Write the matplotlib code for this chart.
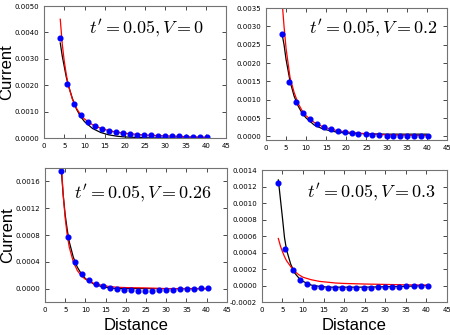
import matplotlib
matplotlib.use("Agg")
import matplotlib.pyplot as plt

# distances of the measured points
distance = [4.0, 5.7, 7.5, 9.2, 10.9, 12.7, 14.4, 16.1, 17.8, 19.6, 21.3,
            23.0, 24.8, 26.5, 28.2, 30.0, 31.7, 33.4, 35.1, 36.9, 38.6, 40.3]

# measured current, one list per panel
current_v0 = [0.0038, 0.00204, 0.00129, 0.00086, 0.0006, 0.00044, 0.00034, 0.00027,
              0.00022, 0.00018, 0.00015, 0.00013, 0.00011, 0.0001, 0.00009, 0.00008,
              0.00007, 0.00006, 0.00005, 0.00004, 0.00004, 0.00002]
current_v02 = [0.00279, 0.00147, 0.00093, 0.00063, 0.00046, 0.00035, 0.00026, 0.0002,
               0.000155, 0.00012, 0.000093, 0.00007, 0.000064, 0.00005, 0.00003, 0.00002,
               0.000015, 0.00001, 0.00001, 0.000005, 0.000005, 0.0]
current_v026 = [0.00176, 0.000765, 0.0004, 0.000225, 0.000125, 0.000075, 0.000035, 0.00001,
                -0.00001, -0.00002, -0.000025, -0.00003, -0.00003, -0.00003, -0.000025, -0.00002,
                -0.000015, -0.00001, -0.000005, 0.0, 0.000005, 0.00001]
current_v03 = [0.001245, 0.000446, 0.00019, 0.000072, 0.000016, -0.000016, -0.000024, -0.000028,
               -0.000032, -0.000032, -0.000032, -0.000032, -0.000028, -0.000028, -0.000024, -0.00002,
               -0.00002, -0.000016, -0.000012, -0.000008, -0.000004, 0.0]

# fitted curves
fit_x = [4, 4.5, 5, 5.5, 6, 7, 8, 9, 10, 12, 14, 16, 18, 20, 25, 30, 35, 40]
red_v0 = [0.0045, 0.00355, 0.0029, 0.0024, 0.002, 0.00147, 0.00113, 0.00089, 0.00072,
          0.0005, 0.00037, 0.00028, 0.00022, 0.00018, 0.00011, 0.00008, 0.00005, 0.00003]
black_v0 = [0.0036, 0.0031, 0.0027, 0.0023, 0.002, 0.0015, 0.0011, 0.00082, 0.00062,
            0.00036, 0.00021, 0.00012, 0.00007, 0.00004, 0.00001, 0.0, 0.0, 0.0]
red_v02 = [0.0037, 0.003, 0.0024, 0.002, 0.0016, 0.0012, 0.0009, 0.0007, 0.00056,
           0.00038, 0.00027, 0.0002, 0.00015, 0.00012, 0.00007, 0.00004, 0.00003, 0.00002]
black_v02 = [0.0028, 0.0025, 0.0021, 0.0018, 0.0015, 0.0011, 0.00083, 0.00063, 0.0005,
             0.00031, 0.00021, 0.00015, 0.00011, 0.00009, 0.00007, 0.00006, 0.00006, 0.00006]
red_v026 = [0.0019, 0.0014, 0.00105, 0.0008, 0.00062, 0.0004, 0.00027, 0.00019, 0.00014,
            0.00008, 0.00005, 0.00003, 0.00002, 0.000015, 0.00001, 0.0, 0.0, 0.0]
black_v026 = [0.0018, 0.0014, 0.0011, 0.00088, 0.0007, 0.00047, 0.00032, 0.00022, 0.00015,
              0.00007, 0.00003, 0.00001, 0.0, 0.0, 0.0, 0.0, 0.0, 0.0]
red_v03 = [0.00057, 0.00048, 0.00041, 0.00035, 0.0003, 0.00023, 0.00017, 0.00013, 0.0001,
           0.00007, 0.00005, 0.00004, 0.00003, 0.000025, 0.000018, 0.000013, 0.000008, 0.000005]
black_v03 = [0.00128, 0.00105, 0.00082, 0.00058, 0.00043, 0.00026, 0.00015, 0.00009, 0.00005,
             0.000005, -0.00001, -0.00002, -0.00002, -0.00002, -0.00002, -0.000015, -0.00001, 0.0]

labels = [r"$t' = 0.05, V = 0$", r"$t' = 0.05, V = 0.2$",
          r"$t' = 0.05, V = 0.26$", r"$t' = 0.05, V = 0.3$"]

plt.rcParams['mathtext.fontset'] = 'cm'

fig = plt.figure(figsize=(4.5, 3.35), dpi=100)

panels = [
    # rect, points, red, black, ylim, yticks, text pos
    ([0.098, 0.588, 0.404, 0.394], current_v0, red_v0, black_v0,
     (0, 0.005), [0.0, 0.001, 0.002, 0.003, 0.004, 0.005], (0.88, 0.83)),
    ([0.591, 0.582, 0.402, 0.394], current_v02, red_v02, black_v02,
     (-0.0001, 0.0035), [0.0, 0.0005, 0.001, 0.0015, 0.002, 0.0025, 0.003, 0.0035], (0.95, 0.85)),
    ([0.100, 0.0985, 0.404, 0.400], current_v026, red_v026, black_v026,
     (-0.0002, 0.0018), [0.0, 0.0004, 0.0008, 0.0012, 0.0016], (0.92, 0.81)),
    ([0.582, 0.0985, 0.411, 0.394], current_v03, red_v03, black_v03,
     (-0.0002, 0.0014), [-0.0002, 0.0, 0.0002, 0.0004, 0.0006, 0.0008, 0.001, 0.0012, 0.0014],
     (0.94, 0.83)),
]

for i, (rect, pts, red, black, ylim, yticks, tpos) in enumerate(panels):
    ax = fig.add_axes(rect)
    ax.plot(fit_x, black, color='k', lw=0.9)
    ax.plot(fit_x, red, color='r', lw=0.9)
    ax.plot(distance, pts, 'o', color='b', mec='b', ms=3.4)
    ax.set_xlim(0, 45)
    ax.set_ylim(*ylim)
    ax.set_xticks(range(0, 50, 5))
    ax.set_yticks(yticks)
    ax.set_yticklabels([f"{v:.4f}" for v in yticks])
    ax.tick_params(direction='in', top=True, right=True, labelsize=5, length=3, width=0.5)
    for s in ax.spines.values():
        s.set_color('0.45')
        s.set_linewidth(0.8)
    ax.text(tpos[0], tpos[1], labels[i], transform=ax.transAxes,
            ha='right', va='center', fontsize=13)
    if i % 2 == 0:
        ax.set_ylabel("Current", family='Liberation Sans', fontsize=12)
        ax.yaxis.set_label_coords(-0.165, 0.5)
    if i >= 2:
        ax.set_xlabel("Distance", family='Liberation Sans', fontsize=12, labelpad=4)

fig.savefig("out.png", dpi=100)
